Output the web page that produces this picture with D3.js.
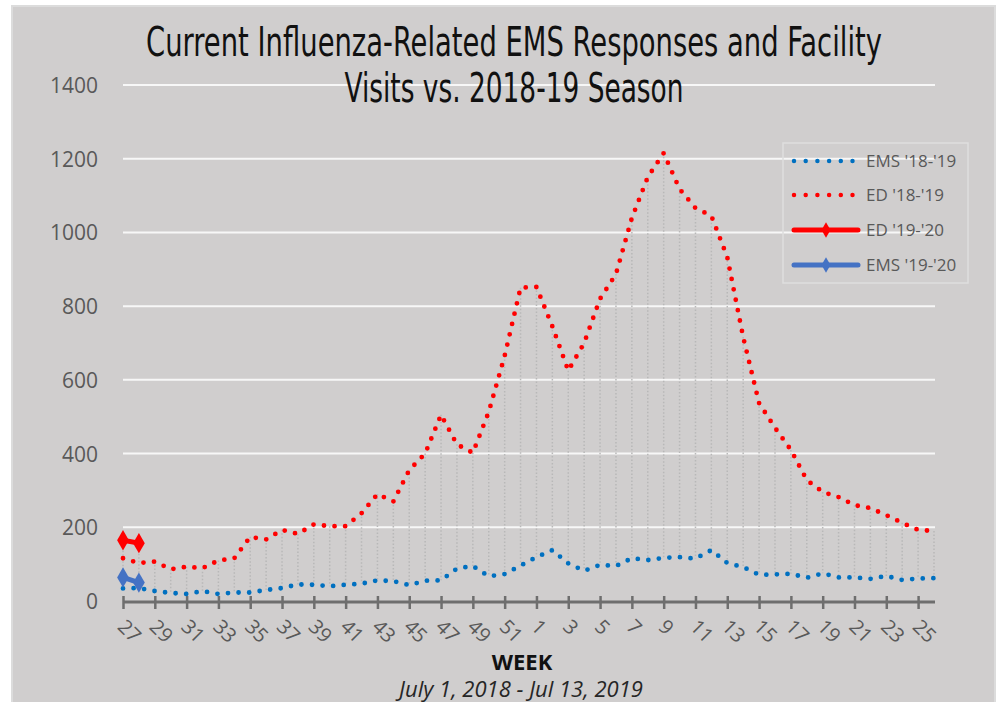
<!DOCTYPE html>
<html>
<head>
<meta charset="utf-8">
<script src="https://cdn.jsdelivr.net/npm/d3@7"></script>
<style>
  html,body{margin:0;padding:0;background:#fff;}
  svg{display:block;}
</style>
</head>
<body>
<svg id="chart" width="1000" height="702"></svg>
<script>
// ---------- DATA ----------
const weeks = [27,28,29,30,31,32,33,34,35,36,37,38,39,40,41,42,43,44,45,46,47,48,49,50,51,52,
               1,2,3,4,5,6,7,8,9,10,11,12,13,14,15,16,17,18,19,20,21,22,23,24,25,26];
const ed1819 = [116,103,107,86,93,89,110,116,174,167,193,182,208,203,203,238,290,270,355,400,505,425,402,513,665,850,
                852,745,625,700,820,887,1039,1150,1215,1118,1066,1045,933,716,537,470,410,328,296,282,260,252,233,212,193,190];
const ems1819 = [34,35,27,22,19,27,19,23,23,30,35,45,44,40,44,47,56,54,43,55,56,88,95,67,73,96,
                 119,138,102,82,98,95,116,111,117,119,115,138,103,92,71,72,74,63,75,64,64,60,68,57,61,62];
const ed1920 = [165,157];
const ems1920 = [64,50];
const yTicks = [0,200,400,600,800,1000,1200,1400];
const seriesNames = ["EMS '18-'19","ED '18-'19","ED '19-'20","EMS '19-'20"];
const titleLines = ["Current Influenza-Related EMS Responses and Facility","Visits vs. 2018-19 Season"];
const xTitle = "WEEK";
const xSubtitle = "July 1, 2018 - Jul 13, 2019";

// ---------- SETUP ----------
const svg = d3.select("#chart");
const W = 1000, H = 702;
const plot = {left:123, right:934, top:85, bottom:601};
const labelFont = "'Open Sans','Noto Sans',sans-serif";
const gray = "#595959";
const RED = "#ff0000", BLUE = "#0070c0", BLUE2 = "#4472c4";

// chart area background
svg.append("rect").attr("x",0).attr("y",0).attr("width",W).attr("height",H).attr("fill","#ffffff");
svg.append("rect").attr("x",12).attr("y",6).attr("width",983).attr("height",702)
   .attr("fill","#d0cece").attr("stroke","#dcdcdc").attr("stroke-width",2);

const idx = weeks.map((w,i)=>i);
const x = d3.scalePoint().domain(idx).range([plot.left, plot.right]);
const y = d3.scaleLinear().domain([0,1400]).range([plot.bottom, plot.top]);

// gridlines
svg.append("g").selectAll("line").data(yTicks.filter(t=>t>0)).join("line")
  .attr("x1",plot.left).attr("x2",plot.right+1)
  .attr("y1",d=>y(d)).attr("y2",d=>y(d))
  .attr("stroke","#f7f7f7").attr("stroke-width",2);

// y axis labels
const yAxis = d3.axisLeft(y).tickValues(yTicks).tickSize(0).tickPadding(0).tickFormat(d3.format("d"));
const gy = svg.append("g").attr("transform",`translate(${plot.left-25},0)`).call(yAxis);
gy.select(".domain").remove();
gy.selectAll("text").attr("font-family",labelFont).attr("font-size",21).attr("fill",gray)
  .attr("dy","0.36em");

// high-low lines
const allSeries = [ed1819, ems1819, ed1920, ems1920];
const hl = idx.map(i=>{
  const vals = allSeries.map(s=>s[i]).filter(v=>v!==undefined);
  return {i, hi:d3.max(vals), lo:d3.min(vals)};
});
svg.append("g").selectAll("line").data(hl).join("line")
  .attr("x1",d=>x(d.i)).attr("x2",d=>x(d.i))
  .attr("y1",d=>y(d.hi)).attr("y2",d=>y(d.lo))
  .attr("stroke","#b8b8b8").attr("stroke-width",1.5).attr("stroke-dasharray","1.5 2");

// x axis
const xAxis = d3.axisBottom(x).tickValues(idx.filter(i=>i%2===0)).tickSize(0).tickFormat(i=>weeks[i]);
const gx = svg.append("g").attr("transform",`translate(0,${plot.bottom+1})`).call(xAxis);
gx.select(".domain").attr("stroke","#6e6e6e").attr("stroke-width",3)
  .attr("d",`M${plot.left},0H${plot.right+1}`);
gx.selectAll(".tick line").attr("stroke","#6e6e6e").attr("stroke-width",2.5)
  .attr("y1",-6).attr("y2",7);
gx.selectAll(".tick text").attr("font-family",labelFont).attr("font-size",20).attr("fill",gray)
  .attr("text-anchor","start").attr("y",0).attr("dy",0)
  .attr("transform","translate(-7,26) rotate(45)");

// lines
const line = d3.line().x((d,i)=>x(i)).y(d=>y(d));
function dotted(data,color){
  svg.append("path").datum(data).attr("d",line).attr("fill","none")
    .attr("stroke",color).attr("stroke-width",4.8).attr("stroke-linecap","round")
    .attr("stroke-dasharray","0 10.6");
}
dotted(ems1819, BLUE);
dotted(ed1819, RED);

function solid(data,color){
  svg.append("path").datum(data).attr("d",line).attr("fill","none")
    .attr("stroke",color).attr("stroke-width",5).attr("stroke-linecap","round");
  svg.append("g").selectAll("path").data(data).join("path")
    .attr("d",d3.symbol(d3.symbolDiamond,120))
    .attr("transform",(d,i)=>`translate(${x(i)},${y(d)})`)
    .attr("fill",color);
}
solid(ed1920, RED);
solid(ems1920, BLUE2);

// legend
const lg = svg.append("g");
lg.append("rect").attr("x",783).attr("y",143).attr("width",185).attr("height",140)
  .attr("fill","none").attr("stroke","#dedede").attr("stroke-width",1.5);
const legendItems = [
  {name:seriesNames[0], color:BLUE, style:"dot"},
  {name:seriesNames[1], color:RED, style:"dot"},
  {name:seriesNames[2], color:RED, style:"solid"},
  {name:seriesNames[3], color:BLUE2, style:"solid"}
];
const rowY = [161,195,230,265];
legendItems.forEach((it,k)=>{
  const yy = rowY[k];
  const l = lg.append("line").attr("x1",794).attr("x2",858).attr("y1",yy).attr("y2",yy)
    .attr("stroke",it.color).attr("stroke-linecap","round");
  if(it.style==="dot"){
    l.attr("stroke-width",4.5).attr("stroke-dasharray","0 11.7");
  } else {
    l.attr("stroke-width",5);
    lg.append("path").attr("d",d3.symbol(d3.symbolDiamond,70)).attr("transform",`translate(826,${yy})`)
      .attr("fill",it.color);
  }
  lg.append("text").attr("x",866).attr("y",yy).attr("dy","0.36em")
    .attr("font-family",labelFont).attr("font-size",17).attr("fill",gray).text(it.name);
});

// title (narrow display face, horizontally fitted)
const tFont = "'Liberation Sans Narrow','DejaVu Sans Condensed','Liberation Sans',sans-serif";
function titleLine(txt, cy, targetW){
  const t = svg.append("text").attr("x",0).attr("y",0).attr("text-anchor","middle")
    .attr("font-family",tFont).attr("font-size",40).attr("fill","#111").text(txt);
  const L = t.node().getComputedTextLength();
  t.attr("transform",`translate(514,${cy}) scale(${targetW/L},1)`);
}
titleLine(titleLines[0], 56, 736);
titleLine(titleLines[1], 102, 339);

// axis titles
svg.append("text").attr("x",522).attr("y",670).attr("text-anchor","middle")
  .attr("font-family",labelFont).attr("font-size",22).attr("font-weight","bold").attr("fill","#111")
  .text(xTitle);
svg.append("text").attr("x",521).attr("y",697).attr("text-anchor","middle")
  .attr("font-family",labelFont).attr("font-size",22).attr("font-style","italic").attr("fill","#262626")
  .text(xSubtitle);
</script>
</body>
</html>
